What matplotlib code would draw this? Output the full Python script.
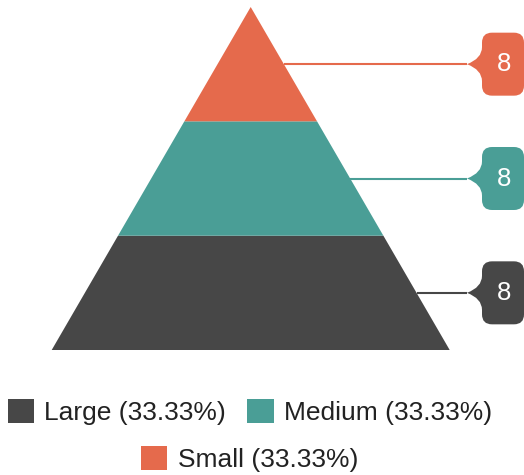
import matplotlib
matplotlib.use("Agg")
import matplotlib.pyplot as plt
from matplotlib.patches import Polygon, PathPatch, Patch
from matplotlib.path import Path

plt.rcParams['font.family'] = ['Liberation Sans', 'DejaVu Sans']

# data, bottom band first
labels = ['Large', 'Medium', 'Small']
values = [8, 8, 8]
colors = ['#474747', '#4a9e96', '#e56a4c']

total = sum(values)
pcts = [v / total * 100 for v in values]

fig = plt.figure(figsize=(5.24, 4.75), dpi=100)
ax = fig.add_axes([0, 0, 1, 1])
# pixel -> data: y base at 350px (0), apex 7px (total); x centre 250.7px, half base 199px
ypx = 343.0 / total
xpx = 199.0
ax.set_ylim(-125.0 / ypx, total + 7.0 / ypx)
ax.set_xlim(-250.7 / xpx, (524 - 250.7) / xpx)
ax.axis('off')


def half_width(y):
    return (total - y) / total


bottom = 0
for lab, val, col in zip(labels, values, colors):
    top = bottom + val
    wb, wt = half_width(bottom), half_width(top)
    pts = [(-wb, bottom), (wb, bottom), (wt, top), (-wt, top)]
    ax.add_patch(Polygon(pts, closed=True, facecolor=col, edgecolor='none'))

    # connector line from right edge at band middle to the callout
    ym = (bottom + top) / 2
    xe = half_width(ym)
    tip = 467 / xpx - 250.7 / xpx
    ax.plot([xe, tip], [ym, ym], color=col, lw=1.5, solid_capstyle='butt')

    # callout box with pointer on the left
    x0 = tip + 15 / xpx
    x1 = x0 + 42 / xpx
    hh = 31.5 / ypx
    r_x, r_y = 10 / xpx, 10 / ypx
    ph = 17 / ypx
    verts = [
        (x0 + r_x, ym + hh), (x1 - r_x, ym + hh),
        (x1, ym + hh), (x1, ym + hh - r_y),
        (x1, ym - hh + r_y),
        (x1, ym - hh), (x1 - r_x, ym - hh),
        (x0 + r_x, ym - hh),
        (x0, ym - hh), (x0, ym - hh + r_y),
        (x0, ym - ph),
        (x0, ym - ph / 3), (tip, ym),
        (x0, ym + ph / 3), (x0, ym + ph),
        (x0, ym + hh - r_y),
        (x0, ym + hh), (x0 + r_x, ym + hh),
        (x0 + r_x, ym + hh),
    ]
    codes = [Path.MOVETO, Path.LINETO,
             Path.CURVE3, Path.CURVE3,
             Path.LINETO,
             Path.CURVE3, Path.CURVE3,
             Path.LINETO,
             Path.CURVE3, Path.CURVE3,
             Path.LINETO,
             Path.CURVE3, Path.CURVE3,
             Path.CURVE3, Path.CURVE3,
             Path.LINETO,
             Path.CURVE3, Path.CURVE3,
             Path.CLOSEPOLY]
    ax.add_patch(PathPatch(Path(verts, codes), facecolor=col, edgecolor='none'))
    ax.text(504 / xpx - 250.7 / xpx, ym, str(val), color='white', fontsize=18.5,
            ha='center', va='center')
    bottom = top

handles = [Patch(facecolor=c, edgecolor='none') for c in colors]
texts = [f'{l} ({p:.2f}%)' for l, p in zip(labels, pcts)]

leg_kw = dict(frameon=False, fontsize=19, handlelength=1.0, handleheight=1.0,
              handletextpad=0.4, columnspacing=0.8, borderaxespad=0, borderpad=0,
              labelcolor='#222222')
leg1 = fig.legend(handles[:2], texts[:2], ncol=2, loc='center',
                  bbox_to_anchor=(0.477, 1 - 412 / 475), **leg_kw)
leg2 = fig.legend(handles[2:], texts[2:], ncol=1, loc='center',
                  bbox_to_anchor=(0.476, 1 - 459 / 475), **leg_kw)

fig.savefig('out.png', dpi=100)
